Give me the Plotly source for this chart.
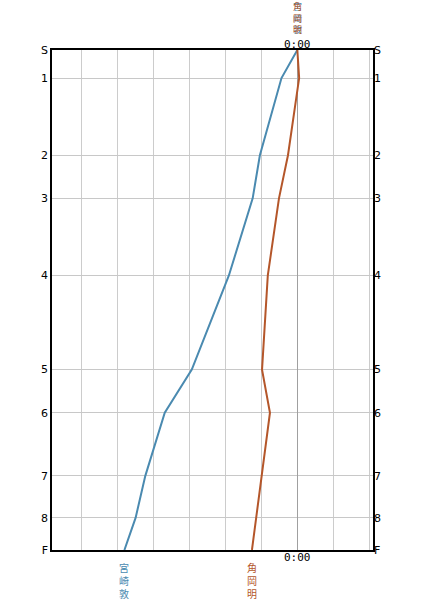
import plotly.graph_objects as go

# Station labels and their positions along the course (top = start)
stations = ["S", "1", "2", "3", "4", "5", "6", "7", "8", "F"]
station_pos = [0, 28, 105, 148, 225, 319, 362, 425, 467, 499]

# Time difference (gridline units) relative to the reference at each station
runner_a = "宮崎敦"
runner_a_vals = [0, -0.44, -1.04, -1.24, -1.90, -2.93, -3.68, -4.22, -4.49, -4.80]
runner_b = "角岡明"
runner_b_vals = [0, 0.05, -0.26, -0.51, -0.82, -0.98, -0.76, -0.99, -1.13, -1.26]

blue = "#4a8ab0"
orange = "#b4562a"

fig = go.Figure()
fig.add_trace(go.Scatter(x=runner_a_vals, y=station_pos, mode="lines",
                         line=dict(color=blue, width=2), showlegend=False,
                         hoverinfo="skip"))
fig.add_trace(go.Scatter(x=runner_b_vals, y=station_pos, mode="lines",
                         line=dict(color=orange, width=2), showlegend=False,
                         hoverinfo="skip"))
# invisible trace on the right y axis
fig.add_trace(go.Scatter(x=[None], y=[None], yaxis="y2", showlegend=False))

tick_font = dict(family="DejaVu Sans", size=11, color="#000")
fig.update_layout(
    width=425, height=600,
    margin=dict(l=52, r=52, t=50, b=50, autoexpand=False),
    paper_bgcolor="white", plot_bgcolor="white",
    xaxis=dict(range=[-6.81, 2.1], dtick=1, tick0=0, showticklabels=False,
               showgrid=True, gridcolor="#cccccc", gridwidth=1,
               zeroline=True, zerolinecolor="#a0a0a0", zerolinewidth=1,
               showline=True, linecolor="black", linewidth=1.5, mirror=True,
               ticks=""),
    yaxis=dict(range=[station_pos[-1], station_pos[0]], tickvals=station_pos,
               ticktext=stations, showgrid=True, gridcolor="#c8c8c8",
               zeroline=False, showline=True, linecolor="black", linewidth=1.5,
               mirror=True, ticks="", tickfont=tick_font, automargin=False),
    yaxis2=dict(range=[station_pos[-1], station_pos[0]], tickvals=station_pos,
                ticktext=stations, overlaying="y", side="right",
                showgrid=False, zeroline=False, ticks="", tickfont=tick_font,
                automargin=False),
)

mono = dict(family="DejaVu Sans Mono", size=11, color="#000")
cjk = "Noto Sans CJK JP"
ann = []
ann.append(dict(x=0, xref="x", y=1, yref="paper", text="0:00", showarrow=False,
                yanchor="middle", yshift=6, font=mono))
ann.append(dict(x=0, xref="x", y=0, yref="paper", text="0:00", showarrow=False,
                yanchor="middle", yshift=-7, font=mono))
for name, vals, col in [(runner_a, runner_a_vals, blue), (runner_b, runner_b_vals, orange)]:
    vtext = "<br>".join(list(name))
    ann.append(dict(x=vals[0], xref="x", y=1, yref="paper", text=vtext,
                    showarrow=False, yanchor="middle", yshift=32, borderpad=0,
                    font=dict(family=cjk, size=9, color=col)))
    ann.append(dict(x=vals[-1], xref="x", y=0, yref="paper", text=vtext,
                    showarrow=False, yanchor="middle", yshift=-30, borderpad=0,
                    font=dict(family=cjk, size=10, color=col)))
fig.update_layout(annotations=ann)

# remove the default page margin so the figure fills the 425x600 window
fig.write_html("out.html", config={"displayModeBar": False},
               post_script="document.body.style.margin='0';document.body.style.overflow='hidden';")
